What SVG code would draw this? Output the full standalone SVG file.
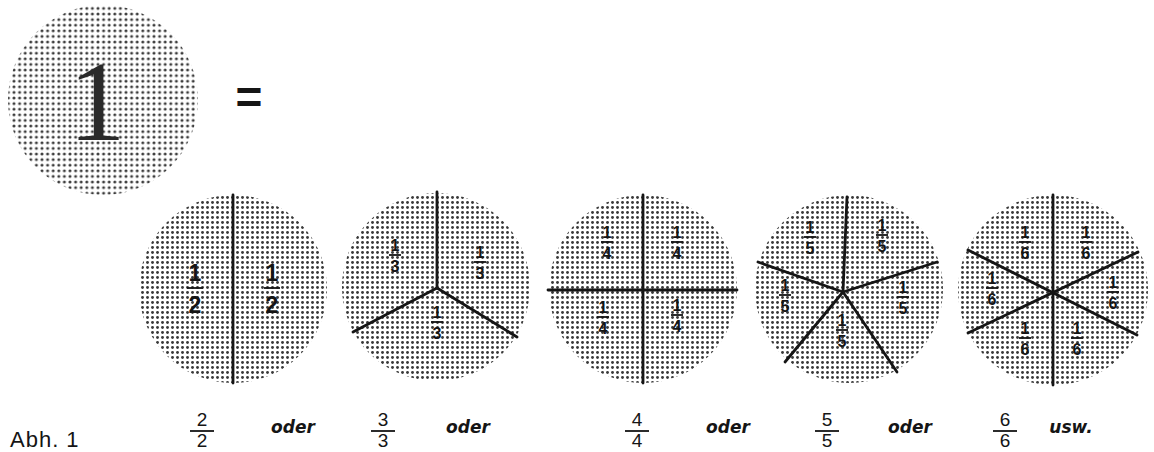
<svg xmlns="http://www.w3.org/2000/svg" width="1154" height="452" viewBox="0 0 1154 452">
  <defs>
    <pattern id="dots" width="5" height="5" patternUnits="userSpaceOnUse">
      <rect width="5" height="5" fill="#fff"/>
      <circle cx="2.5" cy="2.5" r="1.45" fill="#3a3a3a"/>
    </pattern>
    <pattern id="dotsBig" width="5.6" height="5.6" patternUnits="userSpaceOnUse">
      <rect width="5.6" height="5.6" fill="#fff"/>
      <circle cx="2.8" cy="2.8" r="1.5" fill="#3a3a3a"/>
    </pattern>
  </defs>
  <style>
    .disk { fill: url(#dots); }
    .cut { stroke: #151515; stroke-width: 2.8; stroke-linecap: round; fill: none; }
    .fr { font-family: "Liberation Sans", Arial, sans-serif; font-weight: bold; fill: #151515; text-anchor: middle; }
    .frs { font-size: 16px; }
    .frb { font-size: 23px; }
    .bar { stroke: #151515; stroke-width: 1.8; }
    .bot { font-family: "Liberation Sans", Arial, sans-serif; fill: #151515; text-anchor: middle; font-size: 19px; }
    .oder { font-family: "DejaVu Sans", sans-serif; font-style: italic; font-weight: bold; fill: #151515; text-anchor: middle; font-size: 17px; }
  </style>

  <g id="whole">
    <circle cx="103" cy="100" r="95" fill="url(#dotsBig)"/>
    <text x="97" y="140" font-family="Liberation Serif, serif" font-size="114" fill="#2a2a2a" text-anchor="middle">1</text>
  </g>
  <g id="equals">
    <text x="249" y="113" font-family="Liberation Sans, Arial, sans-serif" font-weight="bold" font-size="46" fill="#151515" text-anchor="middle">=</text>
  </g>

  <g id="halves">
    <circle class="disk" cx="233" cy="289" r="94"/>
    <line class="cut" x1="233" y1="195" x2="233" y2="383"/>
    <text class="fr frb" x="195" y="281">1</text><line class="bar" x1="187" y1="288" x2="203" y2="288"/><text class="fr frb" x="195" y="313">2</text>
    <text class="fr frb" x="272" y="281">1</text><line class="bar" x1="264" y1="288" x2="280" y2="288"/><text class="fr frb" x="272" y="313">2</text>
  </g>

  <g id="thirds">
    <circle class="disk" cx="436" cy="287" r="94"/>
    <line class="cut" x1="437" y1="192" x2="437" y2="288"/>
    <line class="cut" x1="437" y1="288" x2="353" y2="332"/>
    <line class="cut" x1="437" y1="288" x2="517" y2="337"/>
    <text class="fr frs" x="395" y="251">1</text><line class="bar" x1="389" y1="255" x2="401" y2="255"/><text class="fr frs" x="395" y="272">3</text>
    <text class="fr frs" x="480" y="258">1</text><line class="bar" x1="474" y1="262" x2="486" y2="262"/><text class="fr frs" x="480" y="279">3</text>
    <text class="fr frs" x="437" y="318">1</text><line class="bar" x1="431" y1="322" x2="443" y2="322"/><text class="fr frs" x="437" y="339">3</text>
  </g>

  <g id="quarters">
    <circle class="disk" cx="643" cy="289" r="94"/>
    <line class="cut" x1="643" y1="195" x2="643" y2="383"/>
    <line class="cut" x1="548" y1="290" x2="737" y2="290"/>
    <text class="fr frs" x="607" y="238">1</text><line class="bar" x1="601" y1="242" x2="613" y2="242"/><text class="fr frs" x="607" y="259">4</text>
    <text class="fr frs" x="677" y="238">1</text><line class="bar" x1="671" y1="242" x2="683" y2="242"/><text class="fr frs" x="677" y="259">4</text>
    <text class="fr frs" x="603" y="313">1</text><line class="bar" x1="597" y1="317" x2="609" y2="317"/><text class="fr frs" x="603" y="334">4</text>
    <text class="fr frs" x="677" y="311">1</text><line class="bar" x1="671" y1="315" x2="683" y2="315"/><text class="fr frs" x="677" y="332">4</text>
  </g>

  <g id="fifths">
    <circle class="disk" cx="849" cy="289" r="94"/>
    <line class="cut" x1="843" y1="292" x2="847" y2="197"/>
    <line class="cut" x1="843" y1="292" x2="758" y2="262"/>
    <line class="cut" x1="843" y1="292" x2="937" y2="262"/>
    <line class="cut" x1="843" y1="292" x2="785" y2="362"/>
    <line class="cut" x1="843" y1="292" x2="897" y2="372"/>
    <text class="fr frs" x="810" y="233">1</text><line class="bar" x1="804" y1="237" x2="816" y2="237"/><text class="fr frs" x="810" y="254">5</text>
    <text class="fr frs" x="882" y="231">1</text><line class="bar" x1="876" y1="235" x2="888" y2="235"/><text class="fr frs" x="882" y="252">5</text>
    <text class="fr frs" x="785" y="291">1</text><line class="bar" x1="779" y1="295" x2="791" y2="295"/><text class="fr frs" x="785" y="312">5</text>
    <text class="fr frs" x="903" y="293">1</text><line class="bar" x1="897" y1="297" x2="909" y2="297"/><text class="fr frs" x="903" y="314">5</text>
    <text class="fr frs" x="842" y="326">1</text><line class="bar" x1="836" y1="330" x2="848" y2="330"/><text class="fr frs" x="842" y="347">5</text>
  </g>

  <g id="sixths">
    <circle class="disk" cx="1053" cy="290" r="95"/>
    <line class="cut" x1="1053" y1="195" x2="1053" y2="385"/>
    <line class="cut" x1="968" y1="250" x2="1137" y2="335"/>
    <line class="cut" x1="968" y1="333" x2="1138" y2="252"/>
    <text class="fr frs" x="1025" y="238">1</text><line class="bar" x1="1019" y1="242" x2="1031" y2="242"/><text class="fr frs" x="1025" y="259">6</text>
    <text class="fr frs" x="1086" y="238">1</text><line class="bar" x1="1080" y1="242" x2="1092" y2="242"/><text class="fr frs" x="1086" y="259">6</text>
    <text class="fr frs" x="992" y="284">1</text><line class="bar" x1="986" y1="288" x2="998" y2="288"/><text class="fr frs" x="992" y="305">6</text>
    <text class="fr frs" x="1113" y="288">1</text><line class="bar" x1="1107" y1="292" x2="1119" y2="292"/><text class="fr frs" x="1113" y="309">6</text>
    <text class="fr frs" x="1025" y="334">1</text><line class="bar" x1="1019" y1="338" x2="1031" y2="338"/><text class="fr frs" x="1025" y="355">6</text>
    <text class="fr frs" x="1077" y="334">1</text><line class="bar" x1="1071" y1="338" x2="1083" y2="338"/><text class="fr frs" x="1077" y="355">6</text>
  </g>

  <g id="connectors"></g>

  <g id="caption">
    <text x="10" y="447" font-family="Liberation Sans, Arial, sans-serif" font-size="22" fill="#151515" letter-spacing="1">Abh. 1</text>
    <text class="bot" x="202" y="426">2</text><line class="bar" x1="190" y1="431" x2="214" y2="431"/><text class="bot" x="202" y="447">2</text>
    <text class="oder" x="293" y="433">oder</text>
    <text class="bot" x="383" y="426">3</text><line class="bar" x1="371" y1="431" x2="395" y2="431"/><text class="bot" x="383" y="447">3</text>
    <text class="oder" x="468" y="433">oder</text>
    <text class="bot" x="637" y="426">4</text><line class="bar" x1="625" y1="431" x2="649" y2="431"/><text class="bot" x="637" y="447">4</text>
    <text class="oder" x="728" y="433">oder</text>
    <text class="bot" x="827" y="426">5</text><line class="bar" x1="815" y1="431" x2="839" y2="431"/><text class="bot" x="827" y="447">5</text>
    <text class="oder" x="910" y="433">oder</text>
    <text class="bot" x="1005" y="426">6</text><line class="bar" x1="993" y1="431" x2="1017" y2="431"/><text class="bot" x="1005" y="447">6</text>
    <text class="oder" x="1071" y="433">usw.</text>
  </g>
</svg>
